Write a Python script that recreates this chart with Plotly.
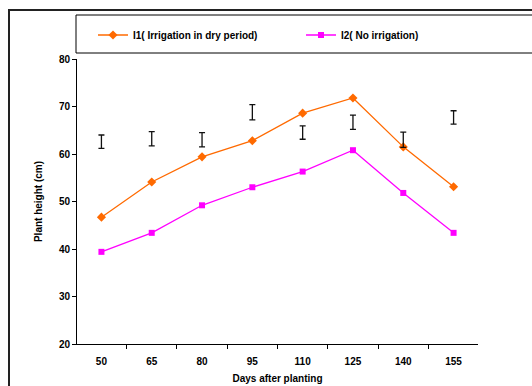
import plotly.graph_objects as go

days = ["50", "65", "80", "95", "110", "125", "140", "155"]
i1_values = [46.7, 54.1, 59.4, 62.8, 68.6, 71.8, 61.5, 53.1]
i2_values = [39.4, 43.4, 49.2, 53.0, 56.3, 60.8, 51.8, 43.4]
lsd_center = [62.6, 63.2, 63.0, 68.8, 64.5, 66.7, 63.0, 67.7]
lsd_half = [1.4, 1.5, 1.5, 1.6, 1.4, 1.5, 1.6, 1.4]

W, H = 532, 386
L, R, T, B = 77, 478, 59, 344

def px(x):
    return (x - L) / (R - L)

def py(y):
    return (B - y) / (B - T)

fig = go.Figure()
fig.add_trace(go.Scatter(
    x=days, y=i1_values, mode="lines+markers", name="I1( Irrigation in dry period)",
    line=dict(color="#FF6A00", width=1.3),
    marker=dict(symbol="diamond", size=7, color="#FF6A00"),
    legend="legend",
))
fig.add_trace(go.Scatter(
    x=days, y=i2_values, mode="lines+markers", name="I2( No irrigation)",
    line=dict(color="#FF00FF", width=1.3),
    marker=dict(symbol="square", size=6, color="#FF00FF"),
    legend="legend2",
))
fig.add_trace(go.Scatter(
    x=days, y=lsd_center, mode="markers", showlegend=False,
    marker=dict(size=1, color="rgba(0,0,0,0)"),
    error_y=dict(type="data", array=lsd_half, color="#111111", thickness=1.3, width=3),
    hoverinfo="skip",
))

font = "Liberation Sans, Arial, sans-serif"
legfont = dict(family=font, size=10, color="black", weight="bold")
fig.update_layout(
    width=W, height=H,
    margin=dict(l=L, r=W - R, t=T, b=H - B, autoexpand=False),
    paper_bgcolor="white", plot_bgcolor="white",
    font=dict(family=font, size=10, color="black"),
    showlegend=True,
    legend=dict(
        orientation="h", x=px(93), y=py(35), xanchor="left", yanchor="middle",
        font=legfont, bgcolor="rgba(0,0,0,0)", itemwidth=30,
    ),
    legend2=dict(
        orientation="h", x=px(301), y=py(35), xanchor="left", yanchor="middle",
        font=legfont, bgcolor="rgba(0,0,0,0)", itemwidth=30,
    ),
    xaxis=dict(
        type="category", tickson="boundaries", ticks="outside", ticklen=4,
        tickcolor="black", showline=True, linecolor="black", linewidth=1,
        showgrid=False, zeroline=False, ticklabelstandoff=8, automargin=False,
        tickfont=dict(family=font, size=10, weight="bold"),
        title=dict(text="<b>Days after planting</b>", font=dict(family=font, size=10), standoff=8),
    ),
    yaxis=dict(
        range=[20, 80], dtick=10, ticks="outside", ticklen=4,
        tickcolor="black", showline=True, linecolor="black", linewidth=1,
        showgrid=False, zeroline=False, automargin=False,
        tickfont=dict(family=font, size=10, weight="bold"),
        title=dict(text="<b>Plant height (cm)</b>", font=dict(family=font, size=10), standoff=14),
    ),
    shapes=[
        dict(type="rect", xref="paper", yref="paper",
             x0=px(9), x1=px(545), y0=py(400), y1=py(10),
             line=dict(color="#222222", width=2), layer="below"),
        dict(type="rect", xref="paper", yref="paper",
             x0=px(76), x1=px(545), y0=py(53), y1=py(15),
             line=dict(color="black", width=1), layer="below"),
    ],
)

fig.write_html("out.html")
